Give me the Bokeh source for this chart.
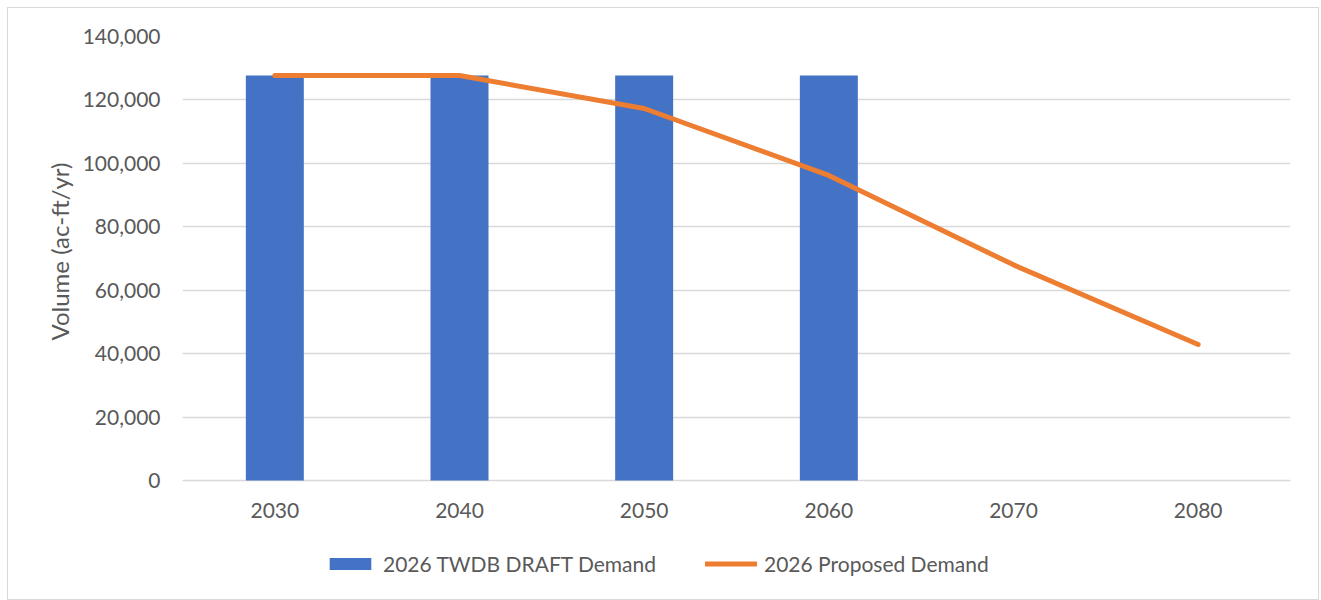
from bokeh.plotting import figure
from bokeh.models import (FactorRange, Range1d, NumeralTickFormatter, FixedTicker,
                          Legend, LegendItem, Title)
from bokeh.core.properties import value
from bokeh.embed import file_html
from bokeh.resources import INLINE

years = ["2030", "2040", "2050", "2060", "2070", "2080"]
draft_demand = [127700, 127700, 127700, 127700, 0, 0]
proposed_demand = [127700, 127700, 117300, 96200, 68000, 42900]
series_names = ["2026 TWDB DRAFT Demand", "2026 Proposed Demand"]
y_label = "Volume (ac-ft/yr)"
y_ticks = [0, 20000, 40000, 60000, 80000, 100000, 120000, 140000]

FONT = "Lato"
TXT = "#595959"

# frame extends below the zero line so the legend can sit inside it
p = figure(x_range=FactorRange(*years, range_padding=0), y_range=Range1d(-37523, 140000),
           width=1312, height=593, output_backend="svg", toolbar_location=None,
           x_axis_location=None,
           min_border_left=174, min_border_right=30, min_border_top=28, min_border_bottom=2)
p.styles = {"border": "1px solid #d9d9d9", "box-sizing": "border-box",
            "margin-left": "7px", "margin-top": "7px"}
p.outline_line_color = None
p.background_fill_color = "white"

bars = p.vbar(x=years, top=draft_demand, width=0.314, fill_color="#4472C4", line_color=None)
line = p.line(x=years, y=proposed_demand, line_color="#ED7D31", line_width=5,
              line_cap="round", line_join="round")

# category labels under the zero line
p.text(x=years, y=[0] * len(years), text=years, y_offset=30,
       text_align="center", text_baseline="middle",
       text_font=value(FONT), text_font_size="21px", text_color=TXT)

ticker = FixedTicker(ticks=y_ticks)
p.xgrid.grid_line_color = None
p.ygrid.ticker = ticker
p.ygrid.grid_line_color = "#D9D9D9"
p.ygrid.grid_line_width = 1.5

ax = p.yaxis[0]
ax.ticker = ticker
ax.formatter = NumeralTickFormatter(format="0,0")
ax.axis_line_color = None
ax.major_tick_line_color = None
ax.minor_tick_line_color = None
ax.major_tick_out = 0
ax.major_label_text_font = FONT
ax.major_label_text_font_size = "21px"
ax.major_label_text_color = TXT
ax.major_label_standoff = 22

ytitle = Title(text=y_label, align="right", offset=126, text_font=FONT,
               text_font_size="24px", text_font_style="normal", text_color=TXT,
               standoff=12)
p.add_layout(ytitle, "left")

legend = Legend(items=[LegendItem(label=series_names[0], renderers=[bars]),
                       LegendItem(label=series_names[1], renderers=[line])],
                orientation="horizontal", location=(142, 23),
                label_text_font=FONT, label_text_font_size="21px", label_text_color=TXT,
                glyph_width=52, glyph_height=15, label_standoff=7, spacing=49,
                padding=0, margin=0, border_line_color=None, background_fill_alpha=0)
p.add_layout(legend, "center")

open("out.html", "w").write(file_html(p, INLINE))
